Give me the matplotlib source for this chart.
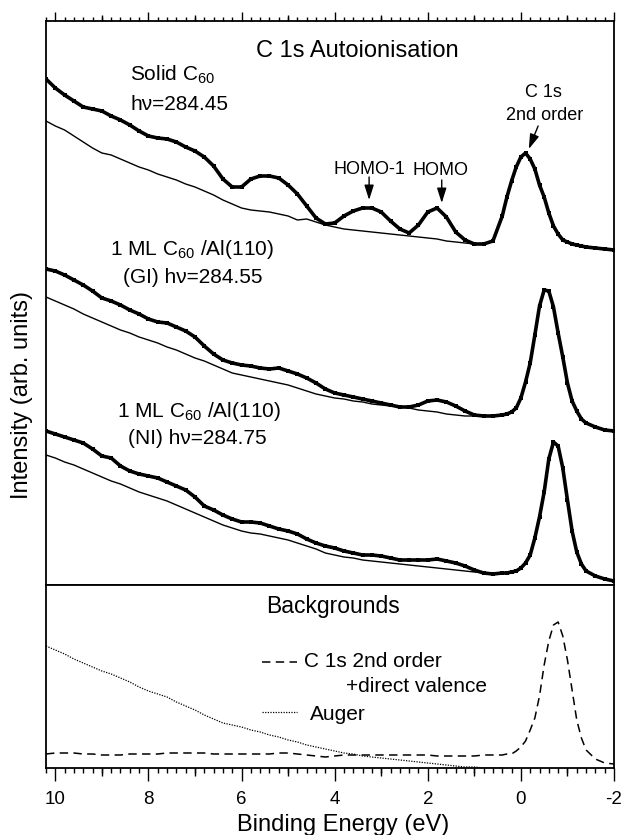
import matplotlib
matplotlib.use("Agg")
import matplotlib.pyplot as plt
from matplotlib.ticker import MultipleLocator

plt.rcParams['font.family'] = ['Liberation Sans', 'DejaVu Sans']
plt.rcParams['mathtext.default'] = 'regular'

# ---------------- data (binding energy in eV, intensity in arb. units) -------------
energy_hi = [10.2, 10.0, 9.8, 9.6, 9.4, 9.2, 9.0, 8.8, 8.6, 8.4, 8.2, 8.0, 7.8, 7.6, 7.4,
             7.2, 7.0, 6.8, 6.6, 6.4, 6.2, 6.0, 5.8, 5.6, 5.4, 5.2, 5.0, 4.8, 4.6, 4.4,
             4.2, 4.0, 3.8, 3.6, 3.4, 3.2, 3.0, 2.8, 2.6, 2.4, 2.2, 2.0, 1.8, 1.6, 1.4,
             1.2, 1.0]
energy_lo = [0.8, 0.6, 0.4, 0.3, 0.2, 0.1, 0.0, -0.1, -0.2, -0.3, -0.4, -0.5, -0.6, -0.7,
             -0.8, -0.9, -1.0, -1.1, -1.2, -1.3, -1.4, -1.6, -1.8, -2.0]
energy = energy_hi + energy_lo

# Solid C60, hv = 284.45
solid_data = [506, 497, 490, 484, 478, 476, 474, 469, 465, 460, 454, 449, 447, 446, 443,
              438, 434, 428, 419, 406, 398, 398, 406, 409, 409, 407, 400, 391, 379, 367,
              361, 362, 369, 374, 377, 377, 373, 364, 356, 352, 360, 373, 377, 368, 353,
              345, 341,
              341, 344, 369, 388, 404, 418, 428, 432, 426, 416, 400, 388, 372, 359,
              351, 345, 343, 341, 340, 339, 338, 337, 336, 335]
solid_bg = [464, 459, 455, 449, 443, 437, 432, 430, 426, 422, 418, 415, 411, 408, 405,
            401, 398, 394, 390, 385, 381, 377, 375, 374, 373, 371, 369, 365, 366, 363,
            360, 358, 356, 355, 354, 353, 352, 351, 350, 349, 348, 347, 346, 344, 343,
            342, 341]

# 1 ML C60/Al(110) (GI), hv = 284.55
gi_data = [316, 314, 310, 305, 300, 294, 287, 284, 280, 275, 271, 266, 263, 262, 258,
           254, 248, 239, 231, 225, 222, 220, 219, 217, 216, 217, 214, 211, 207, 202,
           196, 192, 190, 188, 186, 184, 182, 180, 178, 178, 180, 184, 185, 183, 179,
           174, 170,
           169, 169, 170, 171, 173, 177, 187, 203, 222, 250, 279, 295, 294, 278,
           252, 228, 202, 184, 174, 166, 162, 158, 155, 154]
gi_bg = [288, 284, 280, 276, 271, 267, 263, 259, 255, 252, 248, 245, 242, 238, 235,
         231, 227, 224, 220, 216, 212, 210, 208, 206, 204, 202, 200, 197, 194, 191,
         189, 187, 186, 184, 183, 181, 180, 179, 178, 177, 175, 174, 173, 171, 170,
         169, 169]

# 1 ML C60/Al(110) (NI), hv = 284.75
ni_data = [154, 151, 148, 145, 142, 136, 129, 127, 119, 114, 111, 109, 107, 103, 99,
           95, 88, 79, 75, 70, 66, 63, 63, 62, 59, 56, 54, 51, 46, 42,
           39, 37, 34, 32, 30, 30, 29, 27, 25, 25, 25, 25, 26, 24, 22,
           19, 15,
           12, 11, 12, 12, 13, 14, 17, 22, 30, 47, 68, 93, 126, 143,
           139, 117, 85, 54, 33, 21, 14, 9, 6, 4]
ni_bg = [130, 127, 123, 120, 116, 112, 108, 104, 101, 97, 93, 90, 87, 84, 80,
         76, 72, 68, 64, 60, 57, 54, 52, 51, 49, 47, 45, 42, 39, 36,
         32, 30, 28, 27, 25, 24, 23, 22, 21, 20, 19, 18, 17, 16, 15,
         14, 13]

# Backgrounds panel
c1s_direct = [14, 15, 15, 15, 14, 14, 13, 13, 13, 14, 14, 14, 14, 15, 15,
              15, 15, 15, 14, 14, 14, 14, 14, 14, 14, 15, 15, 14, 13, 12,
              11, 12, 13, 13, 13, 13, 13, 13, 13, 13, 13, 13, 12, 12, 12,
              12, 12,
              13, 13, 13, 14, 14, 17, 21, 27, 38, 50, 72, 103, 127, 143,
              146, 132, 108, 78, 48, 30, 18, 9, 5, 4]
auger = [122, 118, 114, 109, 105, 101, 97, 94, 90, 86, 81, 77, 74, 71, 66,
         62, 58, 53, 49, 45, 43, 41, 38, 36, 33, 31, 28, 26, 23, 21,
         19, 17, 15, 14, 12, 11, 10, 9, 8, 7, 6, 5, 4, 3, 2,
         1, 1, 0, 0, 0]

major_ticks = [10, 8, 6, 4, 2, 0, -2]
mid_ticks = [9, 7, 5, 3, 1, -1]

# ---------------- figure ---------------------------------------------------------
fig = plt.figure(figsize=(6.21, 8.35), dpi=100)
ax1 = fig.add_axes([0.07407, 0.29940, 0.91465, 0.67545])
ax2 = fig.add_axes([0.07407, 0.08024, 0.91465, 0.21916])

n_hi = len(energy_hi)
for data, bg in [(solid_data, solid_bg), (gi_data, gi_bg), (ni_data, ni_bg)]:
    fit = bg + data[n_hi:]
    ax1.plot(energy, fit, color='k', lw=1.0)
    ax1.plot(energy, data, color='k', lw=2.6, marker='s', ms=3.4, mew=0)

ax2.plot(energy, c1s_direct, color='k', lw=1.1, dashes=(5.5, 3.5))
ax2.plot(energy[:len(auger)], auger, color='k', lw=0.9, dashes=(1.0, 1.1))

for ax in (ax1, ax2):
    ax.set_xlim(10.2, -2.0)
    ax.set_yticks([])
    for sp in ax.spines.values():
        sp.set_linewidth(1.3)
    ax.xaxis.set_major_locator(MultipleLocator(2))
    ax.xaxis.set_minor_locator(MultipleLocator(0.2))

ax1.set_ylim(0, 564)
ax2.set_ylim(0, 183)

ax1.xaxis.set_ticks_position('top')
ax1.tick_params(axis='x', which='both', direction='out', labeltop=False, labelbottom=False)
ax1.tick_params(axis='x', which='major', length=6.5, width=1.0)
ax1.tick_params(axis='x', which='minor', length=2.9, width=1.0)
sec1 = ax1.secondary_xaxis('top')
sec1.set_xticks(mid_ticks)
sec1.tick_params(axis='x', length=4.3, width=1.0, labeltop=False)
sec1.spines['top'].set_visible(False)

ax2.xaxis.set_ticks_position('bottom')
ax2.set_xticks(major_ticks)
ax2.set_xticklabels([str(t) for t in major_ticks])
ax2.tick_params(axis='x', which='major', direction='out', length=9.4, width=1.0,
                labelsize=13.5, pad=7)
ax2.tick_params(axis='x', which='minor', direction='out', length=3.6, width=1.0)
sec2 = ax2.secondary_xaxis('bottom')
sec2.set_xticks(mid_ticks)
sec2.tick_params(axis='x', length=5.8, width=1.0, labelbottom=False)
sec2.spines['bottom'].set_visible(False)

# ---------------- texts -------------------------------------------------------------
t1 = ax1.transAxes
ax1.text(0.5475, 0.936, 'C 1s Autoionisation', transform=t1, ha='center', va='baseline', fontsize=17)
ax1.text(0.148, 0.894, 'Solid C$_{60}$', transform=t1, ha='left', va='baseline', fontsize=15)
ax1.text(0.148, 0.842, 'hν=284.45', transform=t1, ha='left', va='baseline', fontsize=15)
ax1.text(0.876, 0.8648, 'C 1s', transform=t1, ha='center', va='baseline', fontsize=13)
ax1.text(0.877, 0.825, '2nd order', transform=t1, ha='center', va='baseline', fontsize=13)
ax1.text(0.5687, 0.7287, 'HOMO-1', transform=t1, ha='center', va='baseline', fontsize=13)
ax1.text(0.694, 0.727, 'HOMO', transform=t1, ha='center', va='baseline', fontsize=13)
ax1.text(0.2565, 0.585, '1 ML C$_{60}$ /Al(110)', transform=t1, ha='center', va='baseline', fontsize=15)
ax1.text(0.2585, 0.535, '(GI) hν=284.55', transform=t1, ha='center', va='baseline', fontsize=15)
ax1.text(0.2694, 0.2984, '1 ML C$_{60}$ /Al(110)', transform=t1, ha='center', va='baseline', fontsize=15)
ax1.text(0.2667, 0.250, '(NI) hν=284.75', transform=t1, ha='center', va='baseline', fontsize=15)

arrow = dict(arrowstyle='-|>,head_length=0.6,head_width=0.19', color='k', lw=1.0,
             shrinkA=0, shrinkB=0, mutation_scale=15)
ax1.annotate('', xy=(3.26, 385), xytext=(3.26, 408), arrowprops=arrow)
ax1.annotate('', xy=(1.70, 382), xytext=(1.70, 405), arrowprops=arrow)
ax1.annotate('', xy=(-0.17, 436), xytext=(-0.37, 459), arrowprops=arrow)

t2 = ax2.transAxes
ax2.text(0.506, 0.849, 'Backgrounds', transform=t2, ha='center', va='baseline', fontsize=16.5)
ax2.plot([0.380, 0.442], [0.581, 0.581], transform=t2, color='k', lw=1.1, dashes=(5.5, 3.5))
ax2.text(0.455, 0.5536, 'C 1s 2nd order', transform=t2, ha='left', va='baseline', fontsize=15)
ax2.text(0.5275, 0.417, '+direct valence', transform=t2, ha='left', va='baseline', fontsize=15)
ax2.plot([0.380, 0.442], [0.306, 0.306], transform=t2, color='k', lw=0.9, dashes=(1.0, 1.1))
ax2.text(0.465, 0.265, 'Auger', transform=t2, ha='left', va='baseline', fontsize=15)

fig.text(22 / 621, 1 - 395 / 835, 'Intensity (arb. units)', rotation=90,
         ha='center', va='center', fontsize=17)
fig.text(343 / 621, 4 / 835, 'Binding Energy (eV)', ha='center', va='baseline', fontsize=17)

fig.savefig('out.png', dpi=100)
